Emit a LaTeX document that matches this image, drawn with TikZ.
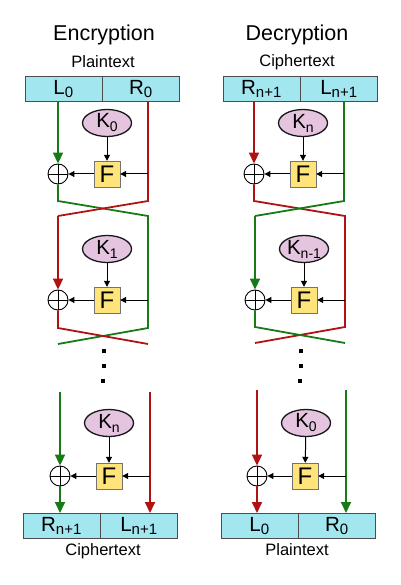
\documentclass[tikz,border=0pt]{standalone}
\usepackage{fontspec}
\setmainfont{Liberation Sans}
\usepackage{xcolor}
\usetikzlibrary{arrows.meta,shapes.geometric}

\definecolor{boxcyan}{HTML}{A2E6F0}
\definecolor{keypink}{HTML}{E4C4DF}
\definecolor{fyellow}{HTML}{FFE47C}
\definecolor{wiregreen}{HTML}{177A17}
\definecolor{wirered}{HTML}{B01212}

\newcommand{\lowsub}[1]{\raisebox{-3pt}{\fontsize{15}{15}\selectfont #1}}
\newcommand{\keysub}[1]{\raisebox{-4pt}{\fontsize{14}{14}\selectfont #1}}

\begin{document}
\begin{tikzpicture}[x=1pt, y=-1pt,
  heading/.style={font=\fontsize{21.5}{24}\selectfont},
  textlabel/.style={font=\fontsize{16.5}{18}\selectfont},
  halfbox/.style={rectangle, draw=black!70, fill=boxcyan, minimum width=77pt,
                  minimum height=25pt, inner sep=0pt, font=\fontsize{20.5}{21}\selectfont},
  keyell/.style={ellipse, draw=black!90, line width=1.3pt, fill=keypink,
                 minimum width=49pt, minimum height=27pt, inner sep=0pt,
                 font=\fontsize{20.5}{21}\selectfont},
  fnbox/.style={rectangle, draw=black!55, fill=fyellow, minimum size=26pt,
                inner sep=0pt, font=\fontsize{24}{24}\selectfont},
  xorop/.style={circle, draw, line width=0.9pt, minimum size=20pt, inner sep=0pt,
                path picture={\draw[line width=0.9pt]
                  (path picture bounding box.north) -- (path picture bounding box.south)
                  (path picture bounding box.west) -- (path picture bounding box.east);}},
  dotmark/.style={rectangle, fill=black, minimum size=4pt, inner sep=0pt},
  arr/.style={-{Triangle[length=6pt,width=6pt]}, line width=1pt},
  gwire/.style={wiregreen, line width=1.8pt},
  rwire/.style={wirered, line width=1.8pt},
  bigtip/.style={-{Triangle[length=11pt,width=10pt]}}
]
\useasboundingbox (0,0) rectangle (400,585);

% encryption
\node[heading] (enc) at (104,35) {Encryption};
\node[textlabel] (etop) at (103,62) {Plaintext};
\node[halfbox, anchor=north east] (el0) at (102,76) {L\lowsub{0}};
\node[halfbox, anchor=north west] (er0) at (102,76) {R\lowsub{0}};
\node[keyell] (ek1) at (107,123) {K\keysub{0}};
\node[fnbox] (ef1) at (107,174) {F};
\node[xorop] (ex1) at (58,174) {};
\node[keyell] (ek2) at (107,249) {K\keysub{1}};
\node[fnbox] (ef2) at (107,300) {F};
\node[xorop] (ex2) at (58,300) {};
\node[dotmark] (ed1) at (104,351) {};
\node[dotmark] (ed2) at (104,366) {};
\node[dotmark] (ed3) at (103,381) {};
\node[keyell] (ek3) at (109,423) {K\keysub{n}};
\node[fnbox] (ef3) at (109,476) {F};
\node[xorop] (ex3) at (60,476) {};
\node[halfbox, anchor=north east] (ern) at (100,513) {R\lowsub{n+1}};
\node[halfbox, anchor=north west] (eln) at (100,513) {L\lowsub{n+1}};
\node[textlabel] (ebot) at (103,551) {Ciphertext};

\coordinate (e1tl) at (58,201);
\coordinate (e1tr) at (148,201);
\coordinate (e1bl) at (58,216);
\coordinate (e1br) at (148,216);
\coordinate (e2tl) at (58,328);
\coordinate (e2tr) at (148,328);
\coordinate (e2bl) at (58,344);
\coordinate (e2br) at (148,344);
\coordinate (e3l) at (60,392);
\coordinate (e3r) at (150,392);

\draw[gwire, bigtip] (el0.south -| ex1) -- (ex1);
\draw[gwire] (ex1) -- (e1tl) -- (e1br) -- (e2tr) -- (e2bl);
\draw[rwire] (er0.south -| e1tr) -- (e1tr) -- (e1bl);
\draw[rwire, bigtip] (e1bl) -- (ex2);
\draw[rwire] (ex2) -- (e2tl) -- (e2br);
\draw[gwire, bigtip] (e3l) -- (ex3);
\draw[gwire, bigtip] (ex3) -- (ern.north -| ex3);
\draw[rwire, bigtip] (e3r) -- (eln.north -| e3r);

\draw[arr] (ek1) -- (ef1);
\draw[arr] (ef1 -| e1tr) -- (ef1);
\draw[arr] (ef1) -- (ex1);
\draw[arr] (ek2) -- (ef2);
\draw[arr] (ef2 -| e1br) -- (ef2);
\draw[arr] (ef2) -- (ex2);
\draw[arr] (ek3) -- (ef3);
\draw[arr] (ef3 -| e3r) -- (ef3);
\draw[arr] (ef3) -- (ex3);

% decryption
\node[heading] (dec) at (297,35) {Decryption};
\node[textlabel] (dtop) at (297,62) {Ciphertext};
\node[halfbox, anchor=north east] (drn) at (300,76) {R\lowsub{n+1}};
\node[halfbox, anchor=north west] (dln) at (300,76) {L\lowsub{n+1}};
\node[keyell] (dk1) at (303,123) {K\keysub{n}};
\node[fnbox] (df1) at (303,174) {F};
\node[xorop] (dx1) at (254,174) {};
\node[keyell] (dk2) at (304,249) {K\keysub{n-1}};
\node[fnbox] (df2) at (304,300) {F};
\node[xorop] (dx2) at (255,300) {};
\node[dotmark] (dd1) at (301,351) {};
\node[dotmark] (dd2) at (301,366) {};
\node[dotmark] (dd3) at (300,381) {};
\node[keyell] (dk3) at (306,423) {K\keysub{0}};
\node[fnbox] (df3) at (305,476) {F};
\node[xorop] (dx3) at (257,476) {};
\node[halfbox, anchor=north east] (dl0) at (298,513) {L\lowsub{0}};
\node[halfbox, anchor=north west] (dr0) at (298,513) {R\lowsub{0}};
\node[textlabel] (dbot) at (297,550) {Plaintext};

\coordinate (d1tl) at (254,201);
\coordinate (d1tr) at (344,201);
\coordinate (d1bl) at (255,216);
\coordinate (d1br) at (345,216);
\coordinate (d2tl) at (255,327);
\coordinate (d2tr) at (345,327);
\coordinate (d2bl) at (255,343);
\coordinate (d2br) at (345,343);
\coordinate (d3l) at (257,390);
\coordinate (d3r) at (346,390);

\draw[rwire, bigtip] (drn.south -| dx1) -- (dx1);
\draw[rwire] (dx1) -- (d1tl) -- (d1br) -- (d2tr) -- (d2bl);
\draw[gwire] (dln.south -| d1tr) -- (d1tr) -- (d1bl);
\draw[gwire, bigtip] (d1bl) -- (dx2);
\draw[gwire] (dx2) -- (d2tl) -- (d2br);
\draw[rwire, bigtip] (d3l) -- (dx3);
\draw[rwire, bigtip] (dx3) -- (dl0.north -| dx3);
\draw[gwire, bigtip] (d3r) -- (dr0.north -| d3r);

\draw[arr] (dk1) -- (df1);
\draw[arr] (df1 -| d1tr) -- (df1);
\draw[arr] (df1) -- (dx1);
\draw[arr] (dk2) -- (df2);
\draw[arr] (df2 -| d1br) -- (df2);
\draw[arr] (df2) -- (dx2);
\draw[arr] (dk3) -- (df3);
\draw[arr] (df3 -| d3r) -- (df3);
\draw[arr] (df3) -- (dx3);
\end{tikzpicture}
\end{document}
